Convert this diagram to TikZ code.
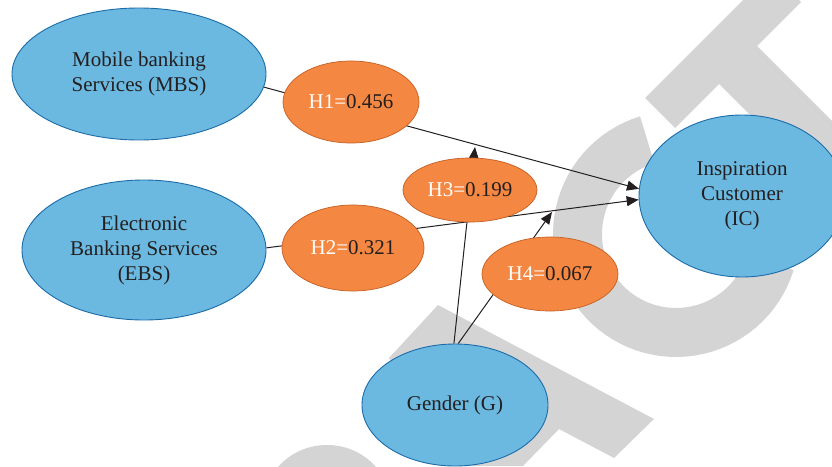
\documentclass[tikz,border=0pt]{standalone}
\usepackage{fontspec}
\setmainfont{Liberation Serif}
\usetikzlibrary{shapes.geometric,arrows.meta,backgrounds}
\definecolor{varblue}{RGB}{107,185,224}
\definecolor{varline}{RGB}{28,108,170}
\definecolor{hypfill}{RGB}{244,135,66}
\definecolor{hypline}{RGB}{196,96,36}
\definecolor{wmark}{RGB}{212,212,212}
\definecolor{ink}{RGB}{35,31,32}
\tikzset{
  var/.style={ellipse,draw=varline,fill=varblue,line width=0.9pt,inner sep=0pt,align=center,text=ink,font=\fontsize{21}{25}\selectfont},
  hyp/.style={ellipse,draw=hypline,fill=hypfill,line width=0.7pt,inner sep=0pt,text=ink,font=\fontsize{21}{25}\selectfont},
  link/.style={draw=ink,line width=1pt},
  arr/.style={link,-{Triangle[length=12pt,width=10pt]}}
}
\newcommand{\hlab}[2]{\textcolor{white}{#1=}#2}

\begin{document}
\begin{tikzpicture}[x=1pt,y=-1pt]
\useasboundingbox (0,0) rectangle (832,466);
\node[var,minimum width=254,minimum height=132] (MBS) at (139,74) {Mobile banking\\Services (MBS)};
\node[var,minimum width=244,minimum height=140] (EBS) at (144,250) {Electronic\\Banking Services\\(EBS)};
\node[var,minimum width=206,minimum height=162] (IC) at (742,196) {Inspiration\\Customer\\(IC)};
\node[var,minimum width=186,minimum height=122] (G) at (455,405) {Gender (G)};
\node[hyp,minimum width=136,minimum height=82] (H1) at (351,102) {\hlab{H1}{0.456}};
\node[hyp,minimum width=142,minimum height=86] (H2) at (353,248) {\hlab{H2}{0.321}};
\node[hyp,minimum width=134,minimum height=64] (H3) at (470,190) {\hlab{H3}{0.199}};
\node[hyp,minimum width=136,minimum height=74] (H4) at (550,274) {\hlab{H4}{0.067}};
\coordinate (m1) at (475,147);
\coordinate (m2) at (552,212);
\begin{scope}[on background layer]
\fill[wmark] (327,502) ellipse (62 and 57);
\fill[wmark] (389,358) -- (438,305) -- (654,419) -- (614,458) -- (559,429) -- (523,466) -- (445,466) -- cycle;
\fill[wmark] plot[domain=107:343,samples=60] ({676+123*cos(\x)},{234-123*sin(\x)})
  -- plot[domain=343:107,samples=60] ({676+74*cos(\x)},{234-74*sin(\x)}) -- cycle;
\fill[wmark] (645,98) -- (771,-28) -- (801,2) -- (757,46) -- (905,194) -- (867,232) -- (719,84) -- (675,128) -- cycle;
\end{scope}
\begin{scope}[on background layer]
\draw[arr] (MBS.-6) -- (IC.176);
\draw[arr] (EBS.1) -- (IC.182);
\draw[arr] (G.91) -- (m1);
\draw[arr] (G.87) -- (m2);
\end{scope}
\end{tikzpicture}
\end{document}
